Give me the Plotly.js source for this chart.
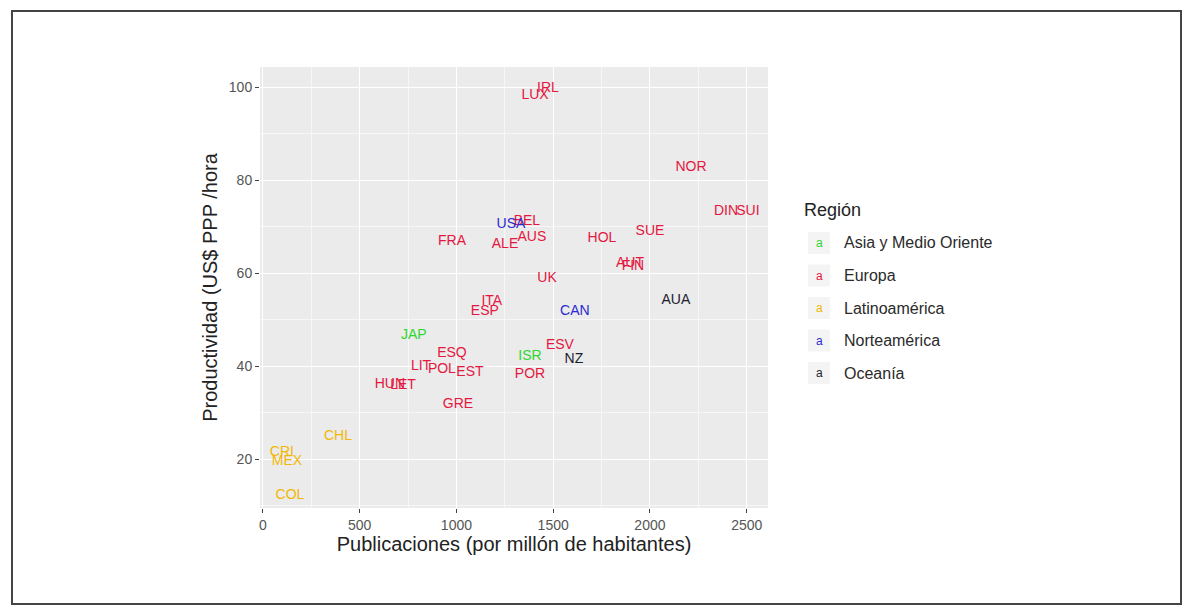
<!DOCTYPE html>
<html>
<head>
<meta charset="utf-8">
<script src="https://cdn.plot.ly/plotly-3.0.1.min.js"></script>
<style>
  html, body { margin: 0; padding: 0; background: #ffffff; }
  #wrap { position: relative; width: 1192px; height: 615px; overflow: hidden; }
  #chart { position: absolute; left: 0; top: 0; width: 1192px; height: 615px; }
  #frame { position: absolute; left: 11px; top: 10px; width: 1171px; height: 595px;
           box-sizing: border-box; border: 2px solid #444; pointer-events: none; }
</style>
</head>
<body>
<div id="wrap">
  <div id="chart"></div>
  <div id="frame"></div>
</div>
<script>
// ---- data ----
const countries = ["IRL","LUX","NOR","DIN","SUI","SUE","HOL","FRA","BEL","ALE","AUS","AUT","FIN","UK",
                   "ITA","ESP","ESV","ESQ","LIT","POL","EST","POR","HUN","LET","GRE",
                   "JAP","ISR",
                   "CHL","CRI","MEX","COL",
                   "USA","CAN",
                   "AUA","NZ"];
const publicaciones = [1473,1406,2212,2393,2506,2000,1752,977,1364,1251,1390,1897,1912,1468,
                       1183,1147,1535,977,817,925,1070,1380,656,724,1008,
                       780,1380,
                       388,98,124,140,
                       1282,1612,
                       2134,1607];
const productividad = [99.6,98.1,82.6,73.2,73.2,68.9,67.4,66.8,71.0,66.2,67.6,62.1,61.4,58.8,
                       53.9,51.8,44.5,42.8,40.0,39.3,38.7,38.3,36.1,35.9,31.8,
                       46.6,42.1,
                       24.9,21.5,19.4,12.1,
                       70.4,51.8,
                       54.1,41.5];
const region = ["Europa","Europa","Europa","Europa","Europa","Europa","Europa","Europa","Europa","Europa","Europa","Europa","Europa","Europa",
                "Europa","Europa","Europa","Europa","Europa","Europa","Europa","Europa","Europa","Europa","Europa",
                "Asia y Medio Oriente","Asia y Medio Oriente",
                "Latinoamérica","Latinoamérica","Latinoamérica","Latinoamérica",
                "Norteamérica","Norteamérica",
                "Oceanía","Oceanía"];
const regiones = ["Asia y Medio Oriente","Europa","Latinoamérica","Norteamérica","Oceanía"];
const regionColors = ["#2fd62f","#e4173f","#f2b705","#2a2ad0","#1c1c2e"];
const xTickVals = [0,500,1000,1500,2000,2500];
const yTickVals = [20,40,60,80,100];

// ---- layout geometry ----
const W = 1192, H = 615;
const panel = {l: 260, r: 768, t: 67, b: 508};
const fontFam = '"Liberation Sans", Arial, sans-serif';
const pxX = px => (px - panel.l) / (panel.r - panel.l);
const pxY = py => (panel.b - py) / (panel.b - panel.t);

const traces = regiones.map((reg, k) => {
  const idx = region.map((r, i) => r === reg ? i : -1).filter(i => i >= 0);
  return {
    type: 'scatter', mode: 'text', name: reg,
    x: idx.map(i => publicaciones[i]),
    y: idx.map(i => productividad[i]),
    text: idx.map(i => countries[i]),
    textposition: 'middle center',
    textfont: {family: fontFam, size: 14, color: regionColors[k]},
    hoverinfo: 'text', showlegend: false, cliponaxis: false
  };
});

// legend built from the region arrays
const annotations = [{
  xref: 'paper', yref: 'paper', x: pxX(802), y: pxY(210), xanchor: 'left', yanchor: 'middle',
  text: 'Región', showarrow: false, font: {family: fontFam, size: 18, color: '#222'}
}];
const shapes = [];
regiones.forEach((reg, k) => {
  const cy = 243 + k * 32.5;
  shapes.push({type: 'rect', xref: 'paper', yref: 'paper',
    x0: pxX(808), x1: pxX(830), y0: pxY(cy - 11), y1: pxY(cy + 11),
    fillcolor: '#f4f4f4', line: {width: 0}, layer: 'below'});
  annotations.push({xref: 'paper', yref: 'paper', x: pxX(819), y: pxY(cy), xanchor: 'center', yanchor: 'middle',
    text: 'a', showarrow: false, font: {family: fontFam, size: 12, color: regionColors[k]}});
  annotations.push({xref: 'paper', yref: 'paper', x: pxX(842), y: pxY(cy), xanchor: 'left', yanchor: 'middle',
    text: reg, showarrow: false, font: {family: fontFam, size: 16, color: '#2a2a2a'}});
});

const axisCommon = {
  showline: false, zeroline: false,
  gridcolor: '#ffffff', gridwidth: 1.3,
  ticks: 'outside', ticklen: 4, tickwidth: 1, tickcolor: '#444',
  tickfont: {family: fontFam, size: 14, color: '#555'},
  fixedrange: true
};

const layout = {
  width: W, height: H,
  margin: {l: panel.l, r: W - panel.r, t: panel.t, b: H - panel.b, pad: 0},
  paper_bgcolor: '#ffffff', plot_bgcolor: '#ebebeb',
  showlegend: false,
  font: {family: fontFam},
  xaxis: Object.assign({}, axisCommon, {
    range: [-15, 2610], tickvals: xTickVals, ticktext: xTickVals.map(String),
    minor: {dtick: 250, tick0: 0, showgrid: true, gridcolor: '#f7f7f7', gridwidth: 0.6, ticks: ''},
    title: {text: 'Publicaciones (por millón de habitantes)', standoff: 5,
            font: {family: fontFam, size: 20, color: '#222'}}
  }),
  yaxis: Object.assign({}, axisCommon, {
    range: [9.5, 104.3], tickvals: yTickVals, ticktext: yTickVals.map(String),
    minor: {dtick: 10, tick0: 0, showgrid: true, gridcolor: '#f7f7f7', gridwidth: 0.6, ticks: ''},
    title: {text: 'Productividad (US$ PPP /hora', standoff: 5,
            font: {family: fontFam, size: 20, color: '#222'}}
  }),
  annotations: annotations,
  shapes: shapes
};

Plotly.newPlot('chart', traces, layout, {displayModeBar: false, staticPlot: false});
</script>
</body>
</html>
